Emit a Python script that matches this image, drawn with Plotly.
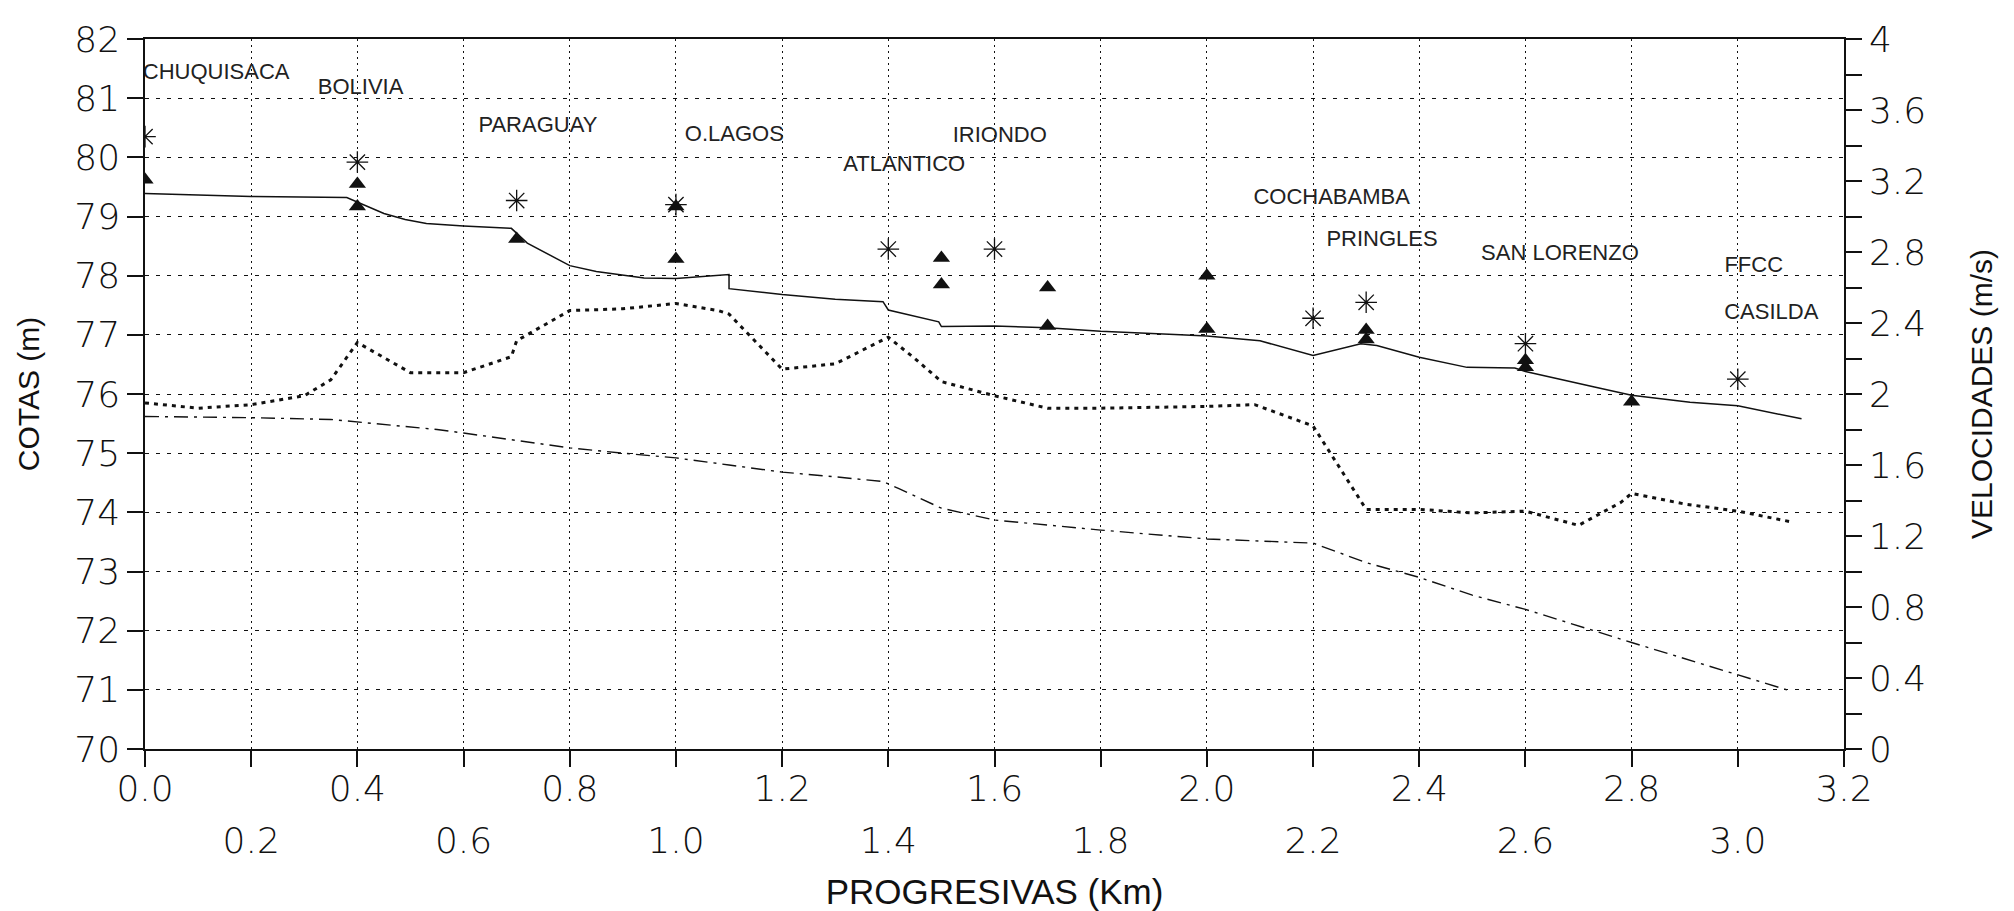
import plotly.graph_objects as go

FONT = "Liberation Sans"
TICK_FONT = "DejaVu Sans"
INK = "#111111"

# Perfil de terreno (cota en m) a lo largo de la traza
prog_terreno = [0.0, 0.2, 0.38, 0.41, 0.45, 0.49, 0.53, 0.6, 0.69, 0.72, 0.8, 0.85, 0.94,
                1.0, 1.1, 1.1, 1.2, 1.3, 1.39, 1.4, 1.495, 1.5, 1.6, 1.7, 1.8, 1.95, 2.0,
                2.1, 2.2, 2.29, 2.32, 2.4, 2.49, 2.58, 2.6, 2.73, 2.8, 2.91, 3.0, 3.12]
cota_terreno = [79.39, 79.34, 79.32, 79.2, 79.05, 78.95, 78.88, 78.84, 78.8, 78.55, 78.17, 78.07, 77.96,
                77.95, 78.02, 77.78, 77.68, 77.6, 77.56, 77.42, 77.22, 77.14, 77.15, 77.12, 77.06, 77.0, 76.98,
                76.9, 76.65, 76.85, 76.82, 76.62, 76.45, 76.44, 76.38, 76.12, 75.98, 75.86, 75.8, 75.58]

# Cota de fondo del conducto (m)
prog_fondo = [0.0, 0.2, 0.35, 0.4, 0.55, 0.6, 0.72, 0.8, 0.9, 1.0, 1.1, 1.2, 1.3, 1.39, 1.42,
              1.5, 1.6, 1.8, 2.0, 2.2, 2.3, 2.4, 2.5, 2.6, 2.8, 3.0, 3.1]
cota_fondo = [75.62, 75.6, 75.57, 75.53, 75.4, 75.34, 75.19, 75.09, 75.0, 74.92, 74.8, 74.68, 74.6, 74.52, 74.4,
              74.07, 73.87, 73.7, 73.55, 73.48, 73.15, 72.9, 72.6, 72.36, 71.8, 71.26, 70.98]

# Velocidad de escurrimiento (m/s)
prog_vel = [0.0, 0.1, 0.2, 0.3, 0.35, 0.4, 0.5, 0.6, 0.69, 0.7, 0.8, 0.9, 1.0, 1.08, 1.1, 1.2,
            1.3, 1.4, 1.45, 1.5, 1.6, 1.7, 1.8, 2.0, 2.09, 2.2, 2.3, 2.4, 2.5, 2.6, 2.7, 2.78,
            2.8, 2.9, 3.0, 3.1]
velocidad = [1.95, 1.92, 1.94, 1.99, 2.08, 2.29, 2.12, 2.12, 2.21, 2.30, 2.47, 2.48, 2.51, 2.47, 2.45, 2.14,
             2.17, 2.32, 2.20, 2.07, 1.99, 1.92, 1.92, 1.93, 1.94, 1.82, 1.35, 1.35, 1.33, 1.34, 1.26, 1.39,
             1.44, 1.38, 1.34, 1.28]

# Niveles en bocas de registro
prog_asterisco = [0.0, 0.4, 0.7, 1.0, 1.4, 1.6, 2.2, 2.3, 2.6, 3.0]
cota_asterisco = [80.35, 79.92, 79.27, 79.2, 78.45, 78.45, 77.28, 77.55, 76.85, 76.25]

prog_triangulo = [0.0, 0.4, 0.4, 0.7, 1.0, 1.0, 1.5, 1.5, 1.7, 1.7, 2.0, 2.0, 2.3, 2.3, 2.6, 2.6, 2.8]
cota_triangulo = [79.62, 79.55, 79.17, 78.62, 79.17, 78.28, 78.3, 77.85, 77.8, 77.15, 78.0, 77.1,
                  77.08, 76.92, 76.57, 76.45, 75.87]

# Calles de cruce
calles = ["CHUQUISACA", "BOLIVIA", "PARAGUAY", "O.LAGOS", "ATLANTICO", "IRIONDO",
          "COCHABAMBA", "PRINGLES", "SAN LORENZO", "FFCC", "CASILDA"]
calle_x = [0.134, 0.406, 0.74, 1.11, 1.43, 1.61, 2.235, 2.33, 2.665, 3.03, 3.063]
calle_y = [81.42, 81.17, 80.52, 80.37, 79.87, 80.35, 79.3, 78.6, 78.36, 78.15, 77.36]

# Ejes
x_ticks_sup = [0.0, 0.4, 0.8, 1.2, 1.6, 2.0, 2.4, 2.8, 3.2]
x_labels_sup = ["0.0", "0.4", "0.8", "1.2", "1.6", "2.0", "2.4", "2.8", "3.2"]
x_ticks_inf = [0.2, 0.6, 1.0, 1.4, 1.8, 2.2, 2.6, 3.0]
x_labels_inf = ["0.2", "0.6", "1.0", "1.4", "1.8", "2.2", "2.6", "3.0"]
cota_ticks = [70, 71, 72, 73, 74, 75, 76, 77, 78, 79, 80, 81, 82]
vel_ticks = [0, 0.2, 0.4, 0.6, 0.8, 1.0, 1.2, 1.4, 1.6, 1.8, 2.0, 2.2, 2.4, 2.6, 2.8, 3.0, 3.2, 3.4, 3.6, 3.8, 4.0]
vel_labels = ["0", "", "0.4", "", "0.8", "", "1.2", "", "1.6", "", "2", "", "2.4", "", "2.8", "",
              "3.2", "", "3.6", "", "4"]

fig = go.Figure()

fig.add_trace(go.Scatter(x=prog_fondo, y=cota_fondo, mode="lines",
                         line=dict(color=INK, width=1.4, dash="14px,6px,3px,6px"),
                         xaxis="x", yaxis="y", showlegend=False))
fig.add_trace(go.Scatter(x=prog_vel, y=velocidad, mode="lines",
                         line=dict(color=INK, width=3, dash="4px,5px"),
                         xaxis="x", yaxis="y2", showlegend=False))
fig.add_trace(go.Scatter(x=prog_terreno, y=cota_terreno, mode="lines",
                         line=dict(color=INK, width=1.5),
                         xaxis="x", yaxis="y", showlegend=False))
fig.add_trace(go.Scatter(x=prog_triangulo, y=cota_triangulo, mode="markers",
                         marker=dict(symbol="triangle-up", size=15, color=INK),
                         xaxis="x", yaxis="y", showlegend=False))
fig.add_trace(go.Scatter(x=prog_asterisco, y=cota_asterisco, mode="markers",
                         marker=dict(symbol="asterisk-open", size=18, color=INK,
                                     line=dict(color=INK, width=1.3)),
                         xaxis="x", yaxis="y", showlegend=False))
fig.add_trace(go.Scatter(x=calle_x, y=calle_y, mode="text", text=calles,
                         textposition="middle center",
                         textfont=dict(family=FONT, size=22, color="#222222"),
                         xaxis="x2", yaxis="y", showlegend=False))

tick_font = dict(family=TICK_FONT, size=36, color=INK, weight=200)
title_font = dict(family=FONT, size=30, color=INK)

fig.update_layout(
    width=2014, height=911,
    margin=dict(l=145, r=170, t=39, b=162, autoexpand=False),
    paper_bgcolor="white", plot_bgcolor="white",
    showlegend=False,
    xaxis=dict(
        range=[0, 3.2], tickmode="array", automargin=False,
        tickvals=x_ticks_sup + x_ticks_inf,
        ticktext=x_labels_sup + [""] * len(x_ticks_inf),
        ticks="outside", ticklen=16, tickwidth=1.5, tickcolor=INK,
        tickfont=tick_font, ticklabelstandoff=-9,
        showline=True, linecolor=INK, linewidth=1.5, mirror=True,
        showgrid=True, gridcolor=INK, gridwidth=1.3, griddash="2px,4px",
        zeroline=False,
        title=dict(text="PROGRESIVAS (Km)", font=dict(family=FONT, size=35, color=INK), standoff=73),
    ),
    xaxis2=dict(
        range=[0, 3.2], overlaying="x", anchor="y", side="bottom", automargin=False,
        tickmode="array", tickvals=x_ticks_inf, ticktext=x_labels_inf,
        ticks="outside", ticklen=16, tickwidth=1.5, tickcolor=INK,
        ticklabelstandoff=44,
        tickfont=tick_font, showgrid=False, showline=False, zeroline=False,
    ),
    yaxis=dict(
        range=[70, 82], tickmode="array", tickvals=cota_ticks, automargin=False,
        ticks="outside", ticklen=16, tickwidth=1.5, tickcolor=INK,
        tickfont=tick_font,
        showline=True, linecolor=INK, linewidth=1.5,
        showgrid=True, gridcolor=INK, gridwidth=1.3, griddash="4px,7px",
        zeroline=False,
        title=dict(text="COTAS (m)", font=title_font, standoff=26),
    ),
    yaxis2=dict(
        range=[0, 4], overlaying="y", side="right", anchor="x", automargin=False,
        tickmode="array", tickvals=vel_ticks, ticktext=vel_labels,
        ticks="outside", ticklen=16, tickwidth=1.5, tickcolor=INK,
        tickfont=tick_font,
        showline=True, linecolor=INK, linewidth=1.5,
        showgrid=False, zeroline=False,
        title=dict(text="VELOCIDADES (m/s)", font=title_font, standoff=46),
    ),
)

fig.write_html("out.html")
